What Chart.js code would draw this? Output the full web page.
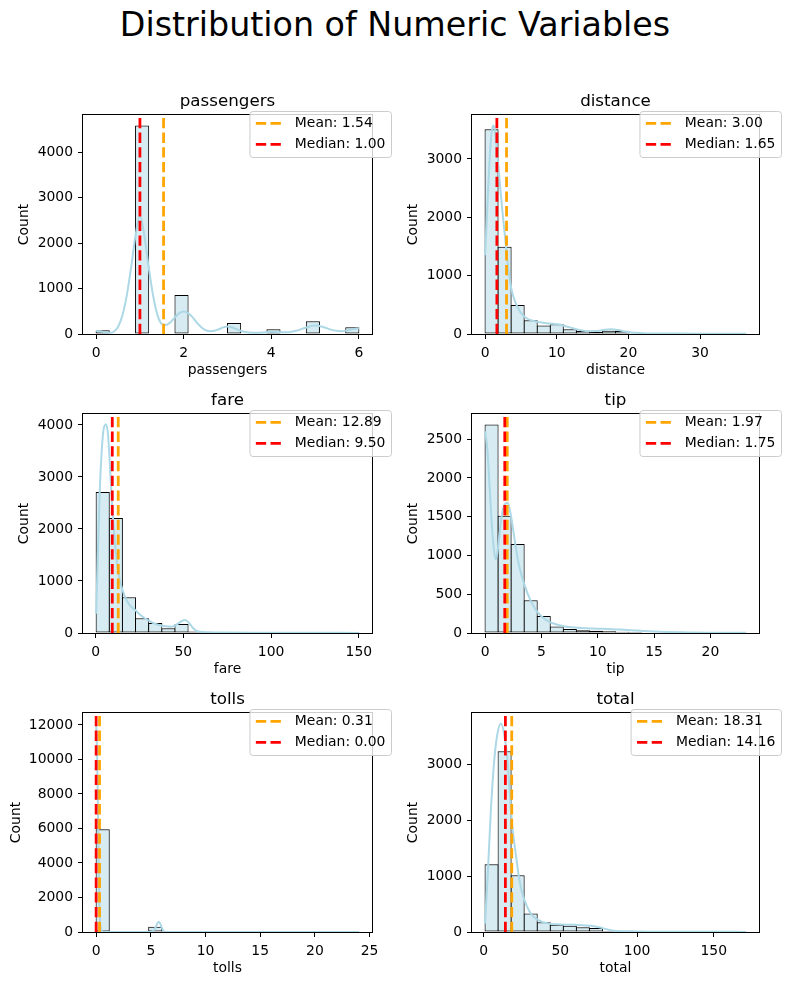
<!DOCTYPE html>
<html>
<head>
<meta charset="utf-8">
<script src="https://cdn.jsdelivr.net/npm/chart.js@4.4.1/dist/chart.umd.min.js"></script>
<style>
  body { margin: 0; background: #fff; }
  #page { position: relative; width: 790px; height: 985px; font-family: 'DejaVu Sans', sans-serif; overflow: hidden; }
  #suptitle { position: absolute; left: 0; top: 5px; width: 790px; text-align: center; font-size: 33.3px; line-height: 40px; color: #000; }
  .panel { position: absolute; width: 395px; height: 310px; }
</style>
</head>
<body>
<div id="page">
  <div id="suptitle">Distribution of Numeric Variables</div>
  <div class="panel" style="left:0px;top:75px"><canvas id="c-passengers" width="395" height="310"></canvas></div>
  <div class="panel" style="left:395px;top:75px"><canvas id="c-distance" width="395" height="310"></canvas></div>
  <div class="panel" style="left:0px;top:374px"><canvas id="c-fare" width="395" height="310"></canvas></div>
  <div class="panel" style="left:395px;top:374px"><canvas id="c-tip" width="395" height="310"></canvas></div>
  <div class="panel" style="left:0px;top:673px"><canvas id="c-tolls" width="395" height="310"></canvas></div>
  <div class="panel" style="left:395px;top:673px"><canvas id="c-total" width="395" height="310"></canvas></div>
</div>
<script>
// passengers
const passengersRange = [0, 6];
const passengersCounts = [81, 0, 0, 4590, 0, 0, 856, 0, 0, 0, 244, 0, 0, 103, 0, 0, 280, 0, 0, 148];
const passengersKdeX = [0, 0.1, 0.2, 0.3, 0.4, 0.5, 0.6, 0.7, 0.8, 0.9, 1.0, 1.1, 1.2, 1.3, 1.4, 1.5, 1.6, 1.7, 1.8, 1.9, 2.0, 2.1, 2.2, 2.3, 2.4, 2.5, 2.6, 2.7, 2.8, 2.9, 3.0, 3.1, 3.2, 3.3, 3.4, 3.6, 3.8, 4.0, 4.2, 4.4, 4.6, 4.8, 5.0, 5.2, 5.4, 5.6, 5.8, 6.0];
const passengersKdeY = [66, 58, 38, 25, 50, 155, 410, 850, 1470, 2170, 2600, 2170, 1470, 850, 420, 220, 200, 260, 370, 460, 495, 460, 370, 250, 150, 85, 60, 70, 105, 145, 165, 150, 110, 70, 45, 30, 35, 48, 40, 40, 80, 145, 185, 150, 85, 60, 95, 125];
const passengersStats = [1.54, 1.00]; // mean, median
const passengersXTicks = [0, 2, 4, 6];
const passengersYTicks = [0, 1000, 2000, 3000, 4000];

// distance
const distanceRange = [0, 36.4];
const distanceCounts = [3511, 1495, 497, 237, 145, 166, 80, 51, 34, 57, 51, 12, 8, 5, 3, 2, 1, 1, 0, 1];
const distanceKdeX = [0, 0.2, 0.4, 0.6, 0.8, 1.0, 1.2, 1.4, 1.6, 1.8, 2.1, 2.4, 2.8, 3.2, 3.7, 4.2, 4.9, 5.8, 6.7, 7.7, 8.6, 9.5, 10.5, 11.5, 12.5, 13.5, 14.5, 15.5, 16.5, 17.5, 18.5, 19.5, 20.5, 22, 24, 27, 30, 33, 36.4];
const distanceKdeY = [1350, 1850, 2400, 2900, 3300, 3520, 3575, 3470, 3220, 2950, 2530, 2130, 1650, 1160, 760, 550, 380, 270, 225, 200, 185, 175, 160, 125, 90, 60, 48, 50, 68, 80, 70, 45, 25, 15, 10, 7, 5, 4, 3];
const distanceStats = [3.00, 1.65];
const distanceXTicks = [0, 10, 20, 30];
const distanceYTicks = [0, 1000, 2000, 3000];

// fare
const fareRange = [0.3, 150];
const fareCounts = [2712, 2212, 686, 283, 192, 90, 173, 30, 19, 6, 4, 3, 2, 1, 1, 1, 0, 0, 0, 1];
const fareKdeX = [0.3, 1.2, 2.3, 3.5, 4.6, 5.9, 7.0, 8.0, 9.0, 10.0, 11.0, 12.0, 13.5, 15.4, 17.5, 20, 22.7, 25, 27.1, 30, 32.8, 36, 40, 43, 46, 49, 51, 53, 55, 57, 60, 65, 75, 90, 110, 130, 150];
const fareKdeY = [373, 1400, 2680, 3510, 3930, 4010, 3840, 3320, 2700, 2150, 1750, 1400, 1060, 820, 640, 510, 436, 360, 308, 245, 192, 155, 128, 120, 160, 230, 250, 205, 115, 50, 22, 13, 8, 5, 4, 3, 2];
const fareStats = [12.89, 9.50];
const fareXTicks = [0, 50, 100, 150];
const fareYTicks = [0, 1000, 2000, 3000, 4000];

// tip
const tipRange = [0, 23.15];
const tipCounts = [2690, 1512, 1147, 423, 218, 84, 52, 36, 30, 22, 17, 12, 8, 5, 4, 3, 2, 1, 1, 1];
const tipKdeX = [0, 0.2, 0.4, 0.6, 0.8, 0.95, 1.1, 1.3, 1.5, 1.75, 2.0, 2.2, 2.4, 2.7, 3.0, 3.5, 4.0, 4.5, 5.0, 5.5, 6.0, 7.0, 8.0, 9.0, 10.0, 11.0, 12.0, 13.0, 14.0, 15.0, 16.0, 18.0, 20.0, 23.15];
const tipKdeY = [2600, 2380, 1900, 1400, 1060, 950, 1040, 1300, 1530, 1660, 1680, 1590, 1420, 1130, 880, 620, 430, 300, 215, 160, 125, 88, 70, 60, 55, 50, 44, 35, 25, 18, 13, 8, 4, 2];
const tipStats = [1.97, 1.75];
const tipXTicks = [0, 5, 10, 15, 20];
const tipYTicks = [0, 500, 1000, 1500, 2000, 2500];

// tolls
const tollsRange = [0, 24.02];
const tollsCounts = [5950, 5, 2, 3, 300, 3, 1, 0, 0, 1, 0, 0, 0, 0, 0, 0, 1, 0, 0, 1];
const tollsKdeX = [0, 0.05, 0.1, 0.15, 0.2, 0.25, 0.3, 0.35, 0.4, 0.5, 0.6, 0.8, 1.5, 3, 4.8, 5.1, 5.3, 5.45, 5.6, 5.73, 5.85, 6.0, 6.15, 6.3, 6.6, 8, 12, 16, 20, 24.02];
const tollsKdeY = [12090, 11300, 9900, 7900, 5400, 3200, 1500, 650, 280, 70, 12, 2, 1, 1, 2, 20, 120, 290, 500, 600, 500, 250, 70, 15, 2, 1, 1, 1, 1, 1];
const tollsStats = [0.31, 0.00];
const tollsXTicks = [0, 5, 10, 15, 20, 25];
const tollsYTicks = [0, 2000, 4000, 6000, 8000, 10000, 12000];

// total
const totalRange = [0.9, 171];
const totalCounts = [1215, 3240, 1015, 332, 176, 128, 114, 84, 72, 18, 5, 3, 2, 1, 1, 1, 0, 0, 0, 1];
const totalKdeX = [0.9, 2.6, 4.7, 6.9, 9.0, 11.2, 13.3, 15.5, 17.2, 18.7, 20.9, 23.0, 25.2, 28.4, 31.6, 35.9, 42.4, 50, 60, 70, 76, 80, 85, 95, 110, 130, 150, 171];
const totalKdeY = [150, 986, 2182, 3079, 3557, 3737, 3557, 3079, 2421, 1883, 1405, 986, 688, 448, 299, 209, 150, 135, 128, 110, 80, 50, 24, 12, 6, 4, 3, 2];
const totalStats = [18.31, 14.16];
const totalXTicks = [0, 50, 100, 150];
const totalYTicks = [0, 1000, 2000, 3000];

Chart.defaults.font.family = "'DejaVu Sans', sans-serif";
Chart.defaults.color = '#000';

const tickFont = { size: 13.9 };
const dash = [10.3, 4.4];
const columns = [
  { yWidth: 83, rightPad: 23, legendShift: 19, plotWidth: 289 },
  { yWidth: 77, rightPad: 31, legendShift: 22, plotWidth: 287 }
];

const panels = [
  { name: 'passengers', range: passengersRange, counts: passengersCounts, kdeX: passengersKdeX, kdeY: passengersKdeY, stats: passengersStats, xTicks: passengersXTicks, yTicks: passengersYTicks, col: 0, yTitlePad: 15.7 },
  { name: 'distance', range: distanceRange, counts: distanceCounts, kdeX: distanceKdeX, kdeY: distanceKdeY, stats: distanceStats, xTicks: distanceXTicks, yTicks: distanceYTicks, col: 1, yTitlePad: 10 },
  { name: 'fare', range: fareRange, counts: fareCounts, kdeX: fareKdeX, kdeY: fareKdeY, stats: fareStats, xTicks: fareXTicks, yTicks: fareYTicks, col: 0, yTitlePad: 15.7 },
  { name: 'tip', range: tipRange, counts: tipCounts, kdeX: tipKdeX, kdeY: tipKdeY, stats: tipStats, xTicks: tipXTicks, yTicks: tipYTicks, col: 1, yTitlePad: 10 },
  { name: 'tolls', range: tollsRange, counts: tollsCounts, kdeX: tollsKdeX, kdeY: tollsKdeY, stats: tollsStats, xTicks: tollsXTicks, yTicks: tollsYTicks, col: 0, yTitlePad: 8.3 },
  { name: 'total', range: totalRange, counts: totalCounts, kdeX: totalKdeX, kdeY: totalKdeY, stats: totalStats, xTicks: totalXTicks, yTicks: totalYTicks, col: 1, yTitlePad: 10 }
];

// axes frame, subplot title and the mean/median legend
const panelDecor = {
  id: 'panelDecor',
  afterDatasetsDraw(chart, args, opts) {
    const { ctx, chartArea: a } = chart;
    ctx.save();
    ctx.strokeStyle = '#000';
    ctx.lineWidth = 1;
    ctx.strokeRect(a.left - 0.5, a.top - 0.5, a.right - a.left + 1, a.bottom - a.top + 1);

    ctx.fillStyle = '#000';
    ctx.font = "16.7px 'DejaVu Sans'";
    ctx.textAlign = 'center';
    ctx.textBaseline = 'alphabetic';
    ctx.fillText(opts.title, (a.left + a.right) / 2, a.top - 9);

    ctx.font = "13.9px 'DejaVu Sans'";
    ctx.textAlign = 'left';
    const tw = Math.max(...opts.items.map(it => ctx.measureText(it.label).width));
    const boxW = 45.4 + tw + 5.6;
    const right = a.right + opts.shift;
    const left = right - boxW;
    const top = a.top - 4;
    ctx.beginPath();
    ctx.roundRect(left + 0.5, top + 0.5, boxW, 46, 3);
    ctx.fillStyle = 'rgba(255,255,255,0.8)';
    ctx.fill();
    ctx.strokeStyle = '#cccccc';
    ctx.stroke();
    opts.items.forEach((it, i) => {
      const y = top + 12.3 + i * 21;
      ctx.beginPath();
      ctx.setLineDash(dash);
      ctx.strokeStyle = it.color;
      ctx.lineWidth = 2.78;
      ctx.moveTo(left + 6.4, y);
      ctx.lineTo(left + 33, y);
      ctx.stroke();
      ctx.setLineDash([]);
      ctx.fillStyle = '#000';
      ctx.textBaseline = 'middle';
      ctx.fillText(it.label, left + 45.4, y);
    });
    ctx.restore();
  }
};

function makeChart(p) {
  const col = columns[p.col];
  const n = p.counts.length;
  const span = p.range[1] - p.range[0];
  const w = span / n;
  const bars = p.counts.map((c, i) => ({ x: p.range[0] + w * (i + 0.5), y: c }));
  const kde = p.kdeX.map((x, i) => ({ x: x, y: p.kdeY[i] }));
  const xMin = p.range[0] - 0.05 * span;
  const xMax = p.range[1] + 0.05 * span;
  const yMax = 1.05 * Math.max(...p.counts, ...p.kdeY);
  const [mean, median] = p.stats;
  // widen each bar by one pixel so neighbouring edges share a single line
  const binPx = w / (xMax - xMin) * col.plotWidth;
  const barPct = 1 + 1 / binPx;

  const gridOpts = { display: true, drawOnChartArea: false, drawTicks: true, tickLength: 5, color: '#000', lineWidth: 1, offset: false };

  new Chart(document.getElementById('c-' + p.name), {
    type: 'bar',
    data: {
      datasets: [
        { type: 'line', label: 'Median', data: [{ x: median, y: 0 }, { x: median, y: yMax }], borderColor: '#ff0000', borderWidth: 2.78, borderDash: dash, pointRadius: 0, order: 1 },
        { type: 'line', label: 'Mean', data: [{ x: mean, y: 0 }, { x: mean, y: yMax }], borderColor: '#ffa500', borderWidth: 2.78, borderDash: dash, pointRadius: 0, order: 2 },
        { type: 'line', label: 'kde', data: kde, borderColor: '#add8e6', borderWidth: 2, pointRadius: 0, cubicInterpolationMode: 'monotone', order: 3 },
        { type: 'bar', label: 'Count', data: bars, backgroundColor: 'rgba(173,216,230,0.5)', borderColor: '#000', borderWidth: 1, borderSkipped: false, inflateAmount: 0, barPercentage: barPct, categoryPercentage: 1, order: 4 }
      ]
    },
    options: {
      responsive: false,
      animation: false,
      devicePixelRatio: 1,
      layout: { padding: { top: 40, right: col.rightPad, left: 0, bottom: 0 } },
      plugins: {
        legend: { display: false },
        tooltip: { enabled: false },
        panelDecor: {
          title: p.name,
          shift: col.legendShift,
          items: [
            { label: 'Mean: ' + mean.toFixed(2), color: '#ffa500' },
            { label: 'Median: ' + median.toFixed(2), color: '#ff0000' }
          ]
        }
      },
      scales: {
        x: {
          type: 'linear', min: xMin, max: xMax, offset: false,
          grid: gridOpts,
          border: { display: false },
          ticks: { font: tickFont, padding: 6, maxRotation: 0, autoSkip: false, callback: v => String(v) },
          afterBuildTicks: s => { s.ticks = p.xTicks.map(v => ({ value: v })); },
          afterFit: s => { s.height = 51; },
          title: { display: true, text: p.name, font: tickFont, padding: { top: 0, bottom: 6.5 } }
        },
        y: {
          type: 'linear', min: 0, max: yMax,
          grid: gridOpts,
          border: { display: false },
          ticks: { font: tickFont, padding: 5, autoSkip: false, callback: v => String(v) },
          afterBuildTicks: s => { s.ticks = p.yTicks.map(v => ({ value: v })); },
          afterFit: s => { s.width = col.yWidth; },
          title: { display: true, text: 'Count', font: tickFont, padding: { top: p.yTitlePad, bottom: 0 } }
        }
      }
    },
    plugins: [panelDecor]
  });
}

panels.forEach(makeChart);
</script>
</body>
</html>
